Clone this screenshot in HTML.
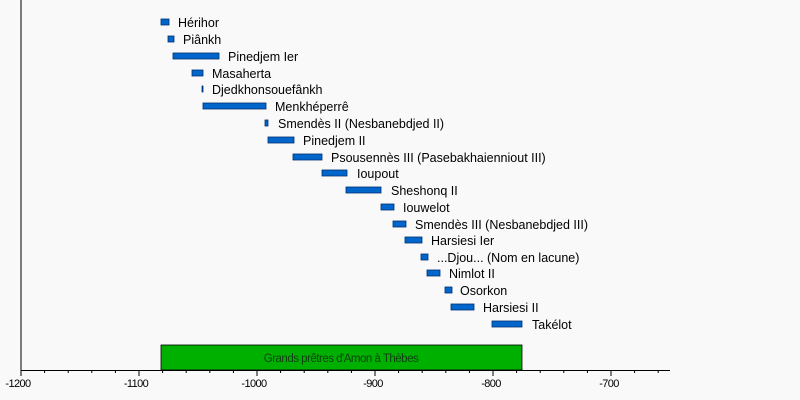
<!DOCTYPE html>
<html><head><meta charset="utf-8"><style>html,body{margin:0;padding:0;background:#f9f9f9}svg{display:block}</style></head><body>
<svg width="800" height="400" xmlns="http://www.w3.org/2000/svg" font-family="Liberation Sans, sans-serif">
<rect width="800" height="400" fill="#f9f9f9"/>
<line x1="21" y1="0" x2="21" y2="370" stroke="#000" stroke-width="1"/>
<rect x="161" y="345" width="361" height="25" fill="#00b000" stroke="#000" stroke-width="0.8"/>
<text x="341" y="362" font-size="11.5" text-anchor="middle" fill="#104010" letter-spacing="-0.5">Grands prêtres d'Amon à Thèbes</text>
<line x1="21" y1="370.5" x2="670" y2="370.5" stroke="#000" stroke-width="1"/>
<g stroke="#000" stroke-width="1">
<path d="M21 370v6M139 370v6M257 370v6M375 370v6M493 370v6M611 370v6"/>
<path d="M44.6 370v3M68.2 370v3M91.8 370v3M115.4 370v3M162.6 370v3M186.2 370v3M209.8 370v3M233.4 370v3M280.6 370v3M304.2 370v3M327.8 370v3M351.4 370v3M398.6 370v3M422.2 370v3M445.8 370v3M469.4 370v3M516.6 370v3M540.2 370v3M563.8 370v3M587.4 370v3M634.6 370v3M658.2 370v3"/>
</g>
<g font-size="11" text-anchor="middle" fill="#000" letter-spacing="-0.6">
<text x="18" y="387">-1200</text><text x="136" y="387">-1100</text><text x="254" y="387">-1000</text><text x="373" y="387">-900</text><text x="491" y="387">-800</text><text x="609" y="387">-700</text>
</g>
<g fill="#0066cc" stroke="#003070" stroke-width="0.8">
<rect x="161" y="19" width="8" height="6"/>
<rect x="168" y="36" width="6" height="6"/>
<rect x="173" y="53" width="46" height="6"/>
<rect x="192" y="70" width="11" height="6"/>
<rect x="202" y="86" width="1" height="6"/>
<rect x="203" y="103" width="63" height="6"/>
<rect x="265" y="120" width="3" height="6"/>
<rect x="268" y="137" width="26" height="6"/>
<rect x="293" y="154" width="29" height="6"/>
<rect x="322" y="170" width="25" height="6"/>
<rect x="346" y="187" width="35" height="6"/>
<rect x="381" y="204" width="13" height="6"/>
<rect x="393" y="221" width="13" height="6"/>
<rect x="405" y="237" width="17" height="6"/>
<rect x="421" y="254" width="7" height="6"/>
<rect x="427" y="270" width="13" height="6"/>
<rect x="445" y="287" width="7" height="6"/>
<rect x="451" y="304" width="23" height="6"/>
<rect x="492" y="321" width="30" height="6"/>
</g>
<g font-size="12.5" fill="#000">
<text x="178" y="27">Hérihor</text>
<text x="183" y="44">Piânkh</text>
<text x="228" y="61">Pinedjem Ier</text>
<text x="212" y="78">Masaherta</text>
<text x="212" y="94">Djedkhonsouefânkh</text>
<text x="275" y="111">Menkhéperrê</text>
<text x="278" y="128">Smendès II (Nesbanebdjed II)</text>
<text x="303" y="145">Pinedjem II</text>
<text x="331" y="162">Psousennès III (Pasebakhaienniout III)</text>
<text x="357" y="178">Ioupout</text>
<text x="391" y="195">Sheshonq II</text>
<text x="403" y="212">Iouwelot</text>
<text x="415" y="229">Smendès III (Nesbanebdjed III)</text>
<text x="431" y="245">Harsiesi Ier</text>
<text x="437" y="262">...Djou... (Nom en lacune)</text>
<text x="449" y="278">Nimlot II</text>
<text x="460" y="295">Osorkon</text>
<text x="483" y="312">Harsiesi II</text>
<text x="532" y="329">Takélot</text>
</g>
</svg>
</body></html>
